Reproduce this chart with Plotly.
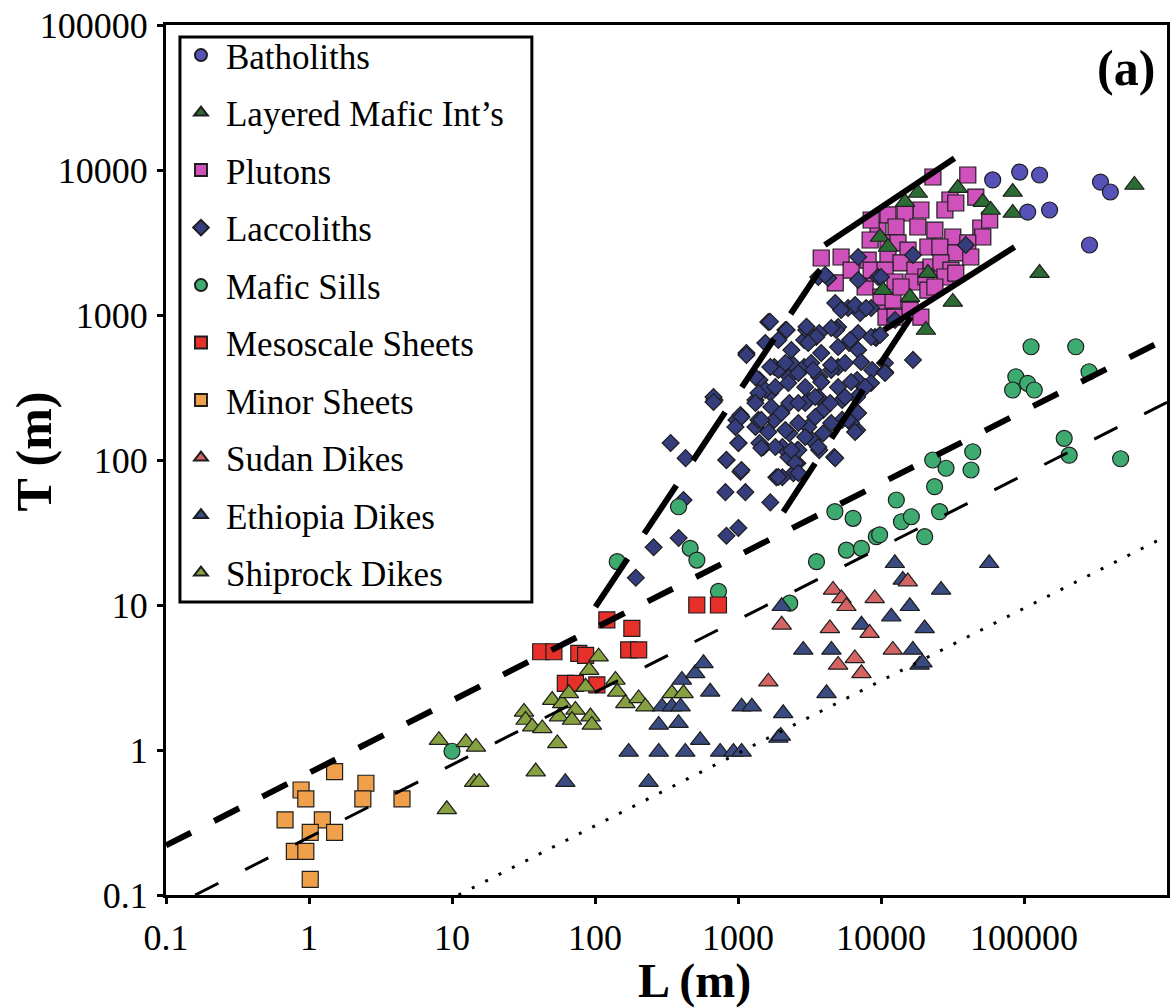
import plotly.graph_objects as go

# ---------------- data (L in m, T in m) ----------------
batholiths_L = [60400, 93300, 128500, 106100, 151000, 342700, 401800, 287100]
batholiths_T = [8540, 9680, 9240, 5130, 5300, 8260, 7050, 3040]

layered_L = [18110, 34440, 83370, 83370, 51520, 58480, 14720, 9840, 11190, 21280,
             10330, 15960, 31770, 20610, 128500, 591600]
layered_T = [6940, 7510, 7050, 5050, 6010, 5300, 6010, 3450, 2944, 1946,
             1486, 1330, 1230, 788, 1946, 7880]

plutons_L = [3819, 5260, 6180, 8128, 4786, 7745, 9530, 8530, 10330, 10840,
             9080, 23070, 40460, 30340, 46030, 27990, 33340, 49890, 57540, 51520,
             19010, 14720, 11190, 12730, 18110, 23820, 31770, 40460, 8395, 11190,
             13150, 15450, 21280, 25820, 33340, 42460, 11190, 13800, 22340, 26240,
             30830, 8530, 10670, 17260, 12530, 16750, 20610, 27990, 33340, 10000,
             12140, 21280, 12530, 15960, 19010, 23820, 13800]
plutons_T = [2472, 2512, 2042, 2393, 1663, 1560, 3855, 4519, 1210, 968,
             1946, 8950, 9240, 6210, 6510, 5300, 5920, 3980, 4519, 3450,
             5300, 5050, 4900, 4045, 4045, 3855, 3450, 3140, 3290, 3140,
             3140, 2805, 2944, 2944, 2678, 2512, 2512, 2285, 2143, 2285,
             2042, 2042, 2042, 2042, 1689, 1689, 1828, 1828, 1946, 1330,
             1268, 1486, 968, 1082, 968, 1560, 1560]

laccoliths_L = [338, 430, 830, 1007, 1503, 1040, 817, 1127, 1683, 1854,
                830, 1007, 385, 257, 193, 416, 2249, 685, 1145, 1629,
                2143, 2904, 3698, 5012, 5984, 1413, 1795, 2286, 2904, 3698,
                5012, 6808, 8670, 1324, 1683, 2286, 3097, 3945, 5346, 6808,
                975, 1324, 1795, 2286, 3097, 3945, 5346, 6808, 1413, 2042,
                2600, 3304, 3698, 4706, 2600, 2438, 2042, 16750, 12530, 1040,
                1390, 3000, 4786, 5888, 7145, 4864, 6918, 9226, 10670, 8530,
                6918, 6180, 6918, 6918, 9530, 3640, 4275, 1824, 2642, 1552,
                2360, 3251, 1914, 2951, 4487, 3640, 39170, 16750, 10000, 8530,
                9080, 10670, 674,
                1675, 2188, 3013, 3524, 4487, 5260, 6590, 7870,
                1145, 1552, 1914, 2360, 3097, 3819, 5012, 6081, 6918, 8530, 9840,
                1324, 1683, 2143, 2642, 3357, 4487, 5610, 7260, 10670,
                1390, 1824, 2249, 2951, 3819, 5012, 6180, 7745,
                674, 1324, 1710, 2642, 3467, 4416, 5610,
                1057, 1456, 2009, 2642, 3467, 4487, 5888, 6590,
                959, 1629, 2143, 2951, 3640,
                1007, 1456, 2360, 4786,
                830, 1057, 1914, 2518, 2642, 4074]
laccoliths_T = [131, 103, 100, 131, 123, 83, 60, 60, 51, 76,
                30, 34, 29, 25, 15.4, 53, 105, 259, 547, 895,
                788, 672, 751, 826, 641, 356, 438, 373, 438, 373,
                438, 356, 418, 259, 290, 247, 259, 221, 259, 272,
                189, 169, 189, 153, 169, 153, 189, 161, 131, 123,
                117, 137, 117, 105, 95, 81, 76, 490, 923, 204,
                189, 788, 1210, 1117, 1032, 788, 751, 694, 467, 340,
                211, 180, 2510, 1742, 1828, 1828, 1799, 123, 117, 304,
                467, 467, 418, 247, 418, 272, 3040, 2594, 1828, 1117,
                705, 404, 272,
                899, 788, 830, 705, 813, 1082, 1172, 1117,
                530, 641, 672, 574, 641, 547, 601, 672, 574, 705, 728,
                373, 438, 467, 398, 418, 452, 467, 474, 398,
                290, 318, 340, 318, 345, 318, 345, 318,
                251, 247, 232, 247, 272, 247, 272,
                198, 189, 211, 180, 198, 180, 189, 156,
                169, 156, 161, 144, 123,
                131, 121, 117, 103,
                100, 85.3, 76.3, 95.3, 81.3, 1888]

sills_L = [10, 143, 384, 463, 516, 730, 2300, 3540, 4760, 6380,
           5730, 7300, 9270, 9780, 12800, 13900, 16300, 20200, 23700, 25700,
           23000, 28500, 43800, 42600, 112000, 230000, 285000, 87700, 106000, 83200,
           118000, 191000, 207000, 474000]
sills_T = [0.98, 19.9, 47.6, 24.6, 20.4, 12.4, 10.3, 19.9, 44, 39.6,
           23.9, 24.6, 29.6, 30.5, 53, 37.5, 40.6, 29.6, 65.5, 44,
           100, 87.7, 114, 85.3, 604, 604, 406, 375, 338, 304,
           304, 141, 108, 102]

meso_L = [41.7, 51.6, 77, 86, 62, 73, 103, 121, 181, 172, 202, 515, 730]
meso_T = [4.76, 4.76, 4.64, 4.5, 2.88, 2.88, 2.81, 7.9, 6.9, 4.9, 4.9, 10, 10]

minor_L = [1.51, 0.88, 0.95, 2.5, 2.38, 4.47, 0.68, 1.24, 1.02, 1.51, 0.79, 0.95, 1.02]
minor_T = [0.71, 0.53, 0.46, 0.59, 0.46, 0.46, 0.33, 0.33, 0.27, 0.27, 0.20, 0.20, 0.128]

sudan_L = [15400, 4620, 5290, 5730, 9040, 4390, 8320, 12100, 5010, 6560, 7300, 2020, 1630]
sudan_T = [14.5, 12.7, 11.1, 9.8, 11.1, 6.9, 6.4, 4.9, 3.86, 4.28, 3.38, 7.3, 2.96]

ethiopia_L = [62, 237, 172, 279, 428, 544, 750, 929, 1060,
              279, 384, 294, 345, 397, 405, 502, 574, 639, 1060,
              1250, 2070, 1914, 1990,
              12500, 57100, 14200, 26300, 15900, 11800, 7300, 20200, 4500, 2860,
              16700, 18600, 19500, 4160, 2020]
ethiopia_T = [0.60, 0.60, 0.97, 0.97, 0.97, 1.17, 0.97, 0.97, 0.97,
              1.49, 1.53, 1.99, 1.99, 1.99, 3.04, 3.38, 3.96, 2.52, 1.99,
              1.99, 1.79, 1.21, 1.25,
              19.4, 19.4, 14.9, 12.7, 9.8, 8.3, 7.3, 6.9, 4.9, 4.9,
              4.9, 3.86, 4.0, 2.46, 9.8]

shiprock_L = [8.1, 12.5, 14.7, 14.3, 15.5, 9.2, 38.5, 31.9, 32.7, 36.4,
              42.8, 54.5, 50.2, 59, 65.7, 73, 56, 69, 93, 95,
              86, 91, 106, 139, 143, 163, 202, 225, 345, 416]
shiprock_T = [1.17, 1.13, 1.05, 0.60, 0.60, 0.39, 0.71, 1.83, 1.61, 1.45,
              1.41, 1.11, 2.21, 2.1, 2.46, 1.89, 1.70, 1.61, 1.70, 1.49,
              2.73, 3.56, 4.4, 3.04, 2.52, 2.1, 2.27, 1.99, 2.46, 2.46]

# reference lines (end points, data units)
upper_dash_L = [0.1, 1e6]
upper_dash_T = [0.22, 690]
lower_dash_L = [0.16, 1e6]
lower_dash_T = [0.1, 250]
dotted_L = [11.1, 1e6]
dotted_T = [0.1, 30]
env_left_L = [100.7, 3741]
env_left_T = [9.7, 2042]
env_right_L = [2075, 16180]
env_right_T = [43.8, 968]
env_top_L = [4046, 32660]
env_top_T = [3041, 12050]
env_bot_L = [10500, 85900]
env_bot_T = [789, 2944]

x_ticks = [0.1, 1, 10, 100, 1000, 10000, 100000]
x_ticktext = ["0.1", "1", "10", "100", "1000", "10000", "100000"]
y_ticks = [0.1, 1, 10, 100, 1000, 10000, 100000]
y_ticktext = ["0.1", "1", "10", "100", "1000", "10000", "100000"]

FONT = "Liberation Serif"
EDGE = "#1e1e1e"

series = [
    # name, L, T, symbol, size, colour, legend rank  (list order = drawing order)
    ("Plutons", plutons_L, plutons_T, "square", 16, "#CF52BC", 3),
    ("Laccoliths", laccoliths_L, laccoliths_T, "diamond", 13, "#353D7C", 4),
    ("Layered Mafic Int\u2019s", layered_L, layered_T, "triangle-up", 17, "#2D6B35", 2),
    ("Batholiths", batholiths_L, batholiths_T, "circle", 16, "#5652B8", 1),
    ("Mafic Sills", sills_L, sills_T, "circle", 16, "#3DAA6F", 5),
    ("Mesoscale Sheets", meso_L, meso_T, "square", 16, "#E8302A", 6),
    ("Minor Sheets", minor_L, minor_T, "square", 16, "#F0A04B", 7),
    ("Shiprock Dikes", shiprock_L, shiprock_T, "triangle-up", 17, "#87A040", 10),
    ("Ethiopia Dikes", ethiopia_L, ethiopia_T, "triangle-up", 17, "#394B80", 9),
    ("Sudan Dikes", sudan_L, sudan_T, "triangle-up", 17, "#D46363", 8),
]

fig = go.Figure()
for name, L, T, sym, size, col, rank in series:
    fig.add_trace(go.Scatter(
        x=L, y=T, mode="markers", name=name,
        legendgroup=name, legendrank=rank,
        marker=dict(symbol=sym, size=size, color=col,
                    line=dict(color=EDGE, width=1.2)),
    ))

lines = [
    (upper_dash_L, upper_dash_T, 6, "28px,26px"),
    (lower_dash_L, lower_dash_T, 3, "26px,30px"),
    (dotted_L, dotted_T, 3, "3px,12px"),
    (env_left_L, env_left_T, 6, "58px,30px"),
    (env_right_L, env_right_T, 6, "58px,30px"),
    (env_top_L, env_top_T, 6, "solid"),
    (env_bot_L, env_bot_T, 6, "solid"),
]
for L, T, w, d in lines:
    fig.add_trace(go.Scatter(x=L, y=T, mode="lines", showlegend=False,
                             hoverinfo="skip",
                             line=dict(color="black", width=w, dash=d)))

axis_common = dict(
    type="log", showgrid=False, zeroline=False,
    showline=True, linecolor="black", linewidth=3, mirror=True,
    ticks="outside", ticklen=6, tickwidth=3, tickcolor="black",
    tickfont=dict(family=FONT, size=36, color="black"),
)
fig.update_xaxes(range=[-1, 6], tickvals=x_ticks, ticktext=x_ticktext,
                 ticklabelstandoff=3, **axis_common)
fig.update_yaxes(range=[-1, 5], tickvals=y_ticks, ticktext=y_ticktext,
                 ticklabelstandoff=2, **axis_common)

fig.update_layout(
    width=1171, height=1008,
    margin=dict(l=166, r=1, t=25, b=113),
    paper_bgcolor="white", plot_bgcolor="white",
    font=dict(family=FONT, color="black"),
    showlegend=True,
    legend=dict(
        x=0.00996, y=0.999, xanchor="left", yanchor="top",
        bgcolor="rgba(0,0,0,0)", borderwidth=0,
        font=dict(family=FONT, size=35, color="black"),
        itemsizing="constant", itemwidth=40,
        traceorder="grouped", tracegroupgap=9,
    ),
    shapes=[
        dict(type="rect", xref="paper", yref="paper",
             x0=0.01394, x1=0.3655, y0=0.33678, y1=0.98621,
             line=dict(color="black", width=3), fillcolor="white", layer="below"),
    ],
    annotations=[
        dict(text="<b>L (m)</b>", xref="paper", yref="paper", x=0.528, y=-0.0989,
             xanchor="center", yanchor="middle", showarrow=False,
             font=dict(family=FONT, size=48, color="black")),
        dict(text="<b>T (m)</b>", xref="paper", yref="paper", x=-0.1315, y=0.5103,
             xanchor="center", yanchor="middle", showarrow=False, textangle=-90,
             font=dict(family=FONT, size=50, color="black")),
        dict(text="<b>(a)</b>", xref="paper", yref="paper", x=0.959, y=0.9506,
             xanchor="center", yanchor="middle", showarrow=False,
             font=dict(family=FONT, size=50, color="black")),
    ],
)

fig.write_html("out.html", config={"displayModeBar": False},
               post_script="document.body.style.margin='0px';")
